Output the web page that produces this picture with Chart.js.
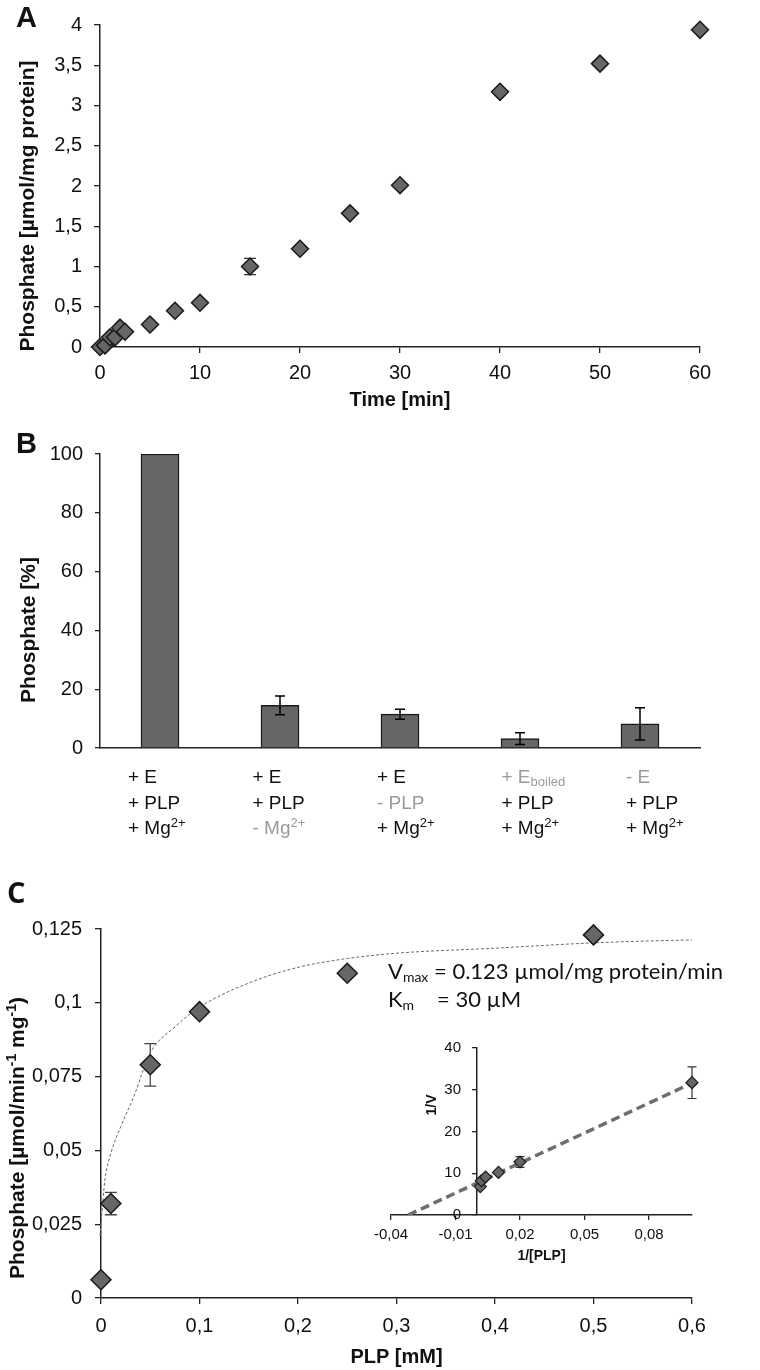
<!DOCTYPE html>
<html>
<head>
<meta charset="utf-8">
<script src="https://cdn.jsdelivr.net/npm/chart.js@4.4.1/dist/chart.umd.min.js"></script>
<style>
  html, body { margin: 0; padding: 0; background: #fff; }
  body { width: 760px; height: 1370px; position: relative; overflow: hidden; }
  canvas { position: absolute; }
  #chartA { left: 0; top: 0; }
  #chartB { left: 0; top: 420px; }
  #chartC { left: 0; top: 870px; }
  #chartInset { left: 360px; top: 1030px; }
</style>
</head>
<body>
<canvas id="chartA" width="760" height="412"></canvas>
<canvas id="chartB" width="760" height="440"></canvas>
<canvas id="chartC" width="760" height="500"></canvas>
<canvas id="chartInset" width="380" height="245"></canvas>
<script>
// ---- Panel A: time course ----
const timeMin = [0, 0.5, 1, 1.5, 2, 2.5, 5, 7.5, 10, 15, 20, 25, 30, 40, 50, 60];
const phosphateA = [0, 0.02, 0.12, 0.12, 0.24, 0.19, 0.28, 0.45, 0.55, 1.0, 1.22, 1.66, 2.01, 3.17, 3.52, 3.94];
const phosphateAErr = [0, 0, 0, 0, 0, 0, 0, 0, 0, 0.1, 0, 0, 0, 0, 0, 0];

// ---- Panel B: controls ----
const conditionE = ["+ E", "+ E", "+ E", "+ E_{boiled}", "- E"];
const conditionPLP = ["+ PLP", "+ PLP", "- PLP", "+ PLP", "+ PLP"];
const conditionMg = ["+ Mg^{2+}", "- Mg^{2+}", "+ Mg^{2+}", "+ Mg^{2+}", "+ Mg^{2+}"];
const phosphatePct = [100, 14.5, 11.5, 3.2, 8.2];
const phosphatePctErr = [0, 3.2, 1.7, 2.0, 5.5];

// ---- Panel C: PLP dependence ----
const plpMM = [0, 0.01, 0.05, 0.1, 0.25, 0.5];
const rateC = [0.0062, 0.032, 0.079, 0.097, 0.110, 0.123];
const rateCErr = [0, 0.0038, 0.0072, 0, 0, 0];
// fitted curve
const fitX = [-0.004, -0.003, -0.001, 0, 0.004, 0.01, 0.02, 0.033, 0.05, 0.075, 0.1, 0.15, 0.2, 0.25, 0.3, 0.4, 0.5, 0.6, 0.67];
const fitY = [0.0015, 0.012, 0.021, 0.025, 0.040, 0.049, 0.058, 0.068, 0.083, 0.0918, 0.0985, 0.1067, 0.112, 0.115, 0.1168, 0.1185, 0.1203, 0.1213, 0.1216];

// ---- Inset: Lineweaver-Burk ----
const invPLP = [0.0015, 0.002, 0.004, 0.01, 0.02, 0.1];
const invRate = [6.8, 8.2, 9.1, 10.2, 12.7, 31.7];
const invRateErr = [0, 0, 0, 0, 1.3, 3.8];
const lbLineX = [-0.032, 0.1];
const lbLineY = [0, 31.6];
const insetXTicks = [-0.04, -0.01, 0.02, 0.05, 0.08];

const ARIAL = "'Liberation Sans', Arial, sans-serif";
const markerFill = "#666666";
const markerEdge = "#1a1a1a";
const axisColor = "#222222";
Chart.defaults.font.family = ARIAL;
Chart.defaults.color = "#111";

function fmtComma(v) {
  return String(Math.round(v * 1000) / 1000).replace(".", ",");
}

// rich text: ^{..} superscript, _{..} subscript
function parseRich(str) {
  const runs = [];
  const re = /([_^])\{([^}]*)\}/g;
  let last = 0, m;
  while ((m = re.exec(str))) {
    if (m.index > last) runs.push({ text: str.slice(last, m.index), kind: "" });
    runs.push({ text: m[2], kind: m[1] });
    last = re.lastIndex;
  }
  if (last < str.length) runs.push({ text: str.slice(last), kind: "" });
  return runs;
}

function drawRich(ctx, str, x, y, o) {
  const runs = parseRich(str);
  const fam = o.family || ARIAL;
  const fontFor = (k) => (o.weight || "normal") + " " + (k ? Math.round(o.size * (o.subScale || 0.65)) : o.size) + "px " + fam;
  let total = 0;
  runs.forEach((r) => {
    ctx.font = fontFor(r.kind);
    r.w = ctx.measureText(r.text).width;
    total += r.w;
  });
  ctx.save();
  ctx.translate(x, y);
  if (o.rotate) ctx.rotate(o.rotate);
  ctx.fillStyle = o.color || "#111";
  ctx.textBaseline = "middle";
  let cx = o.align === "center" ? -total / 2 : o.align === "right" ? -total : 0;
  runs.forEach((r) => {
    ctx.font = fontFor(r.kind);
    const dy = r.kind === "^" ? -o.size * 0.3 : r.kind === "_" ? o.size * 0.25 : 0;
    ctx.fillText(r.text, cx, dy);
    cx += r.w;
  });
  ctx.restore();
}

const notesPlugin = {
  id: "notes",
  afterDraw(chart, args, opts) {
    (opts.items || []).forEach((it) => drawRich(chart.ctx, it.text, it.x, it.y, it));
  },
};

function drawErrors(chart, opts) {
  const ctx = chart.ctx;
  chart.data.datasets.forEach((ds, di) => {
    if (!ds.errors) return;
    const meta = chart.getDatasetMeta(di);
    const yScale = chart.scales[meta.yAxisID];
    ctx.save();
    ctx.strokeStyle = opts.color;
    ctx.lineWidth = opts.width;
    meta.data.forEach((el, i) => {
      const err = ds.errors[i];
      if (!err) return;
      const raw = ds.data[i];
      const v = typeof raw === "object" ? raw.y : raw;
      const top = yScale.getPixelForValue(v + err);
      const bot = yScale.getPixelForValue(v - err);
      const x = el.x;
      ctx.beginPath();
      ctx.moveTo(x, top); ctx.lineTo(x, bot);
      ctx.moveTo(x - opts.cap, top); ctx.lineTo(x + opts.cap, top);
      ctx.moveTo(x - opts.cap, bot); ctx.lineTo(x + opts.cap, bot);
      ctx.stroke();
    });
    ctx.restore();
  });
}

const errorBarPlugin = {
  id: "errorBars",
  beforeDatasetsDraw(chart, args, opts) { if (!opts.front) drawErrors(chart, opts); },
  afterDatasetsDraw(chart, args, opts) { if (opts.front) drawErrors(chart, opts); },
};

// multi-line condition labels under the bars of panel B
const conditionLabelPlugin = {
  id: "conditionLabels",
  afterDraw(chart) {
    const xs = chart.scales.x;
    const rows = [conditionE, conditionPLP, conditionMg];
    conditionE.forEach((_, i) => {
      // labels in the figure drift slightly right of the bar centres
      const left = xs.getPixelForValue(i) - 32 + i * 4.5;
      rows.forEach((row, r) => {
        const txt = row[i];
        const gray = txt.startsWith("-") || txt.includes("boiled");
        drawRich(chart.ctx, txt, left, xs.top + 30 + r * 25.5, {
          size: 19, color: gray ? "#9a9a9a" : "#111", subScale: 0.7,
        });
      });
    });
  },
};

// inset y labels sit left of the axis drawn at x = 0
const insetYLabelPlugin = {
  id: "insetYLabels",
  afterDraw(chart) {
    const xs = chart.scales.x;
    const ys = chart.scales.y;
    const ax = xs.getPixelForValue(0);
    const ctx = chart.ctx;
    ctx.save();
    ctx.font = "15px " + ARIAL;
    ctx.fillStyle = "#111";
    ctx.textAlign = "right";
    ctx.textBaseline = "middle";
    ys.ticks.forEach((t) => ctx.fillText(String(t.value), ax - 16, ys.getPixelForValue(t.value)));
    ctx.restore();
  },
};

const axisTitleFont = { family: ARIAL, size: 20, weight: "bold" };
const tickFont = { family: ARIAL, size: 20 };

// ---------------- Chart A ----------------
new Chart(document.getElementById("chartA"), {
  type: "scatter",
  data: {
    datasets: [{
      data: timeMin.map((t, i) => ({ x: t, y: phosphateA[i] })),
      errors: phosphateAErr,
      pointStyle: "rectRot",
      pointRadius: 8.5,
      pointHoverRadius: 8.5,
      backgroundColor: markerFill,
      borderColor: markerEdge,
      borderWidth: 1.5,
      clip: false,
    }],
  },
  options: {
    responsive: false,
    animation: false,
    devicePixelRatio: 1,
    layout: { padding: { top: 25, right: 60, left: 0, bottom: 0 } },
    plugins: {
      legend: { display: false },
      tooltip: { enabled: false },
      errorBars: { front: false, color: "#333", width: 1.3, cap: 6 },
      notes: {
        items: [
          { text: "A", x: 16, y: 19, size: 29, weight: "bold" },
          { text: "Phosphate [µmol/mg protein]", x: 28, y: 206, size: 21, weight: "bold", align: "center", rotate: -Math.PI / 2 },
        ],
      },
    },
    scales: {
      x: {
        type: "linear", min: 0, max: 60,
        ticks: { stepSize: 10, font: tickFont, color: "#111", padding: 8 },
        grid: { drawOnChartArea: false, tickLength: 6, color: axisColor, lineWidth: 1.3 },
        border: { color: axisColor, width: 1.5 },
        title: { display: true, text: "Time [min]", font: axisTitleFont, color: "#111", padding: { top: 0, bottom: 0 } },
        afterFit: (s) => { s.height = 65; },
      },
      y: {
        min: 0, max: 4,
        ticks: { stepSize: 0.5, font: tickFont, color: "#111", padding: 12, callback: fmtComma },
        grid: { drawOnChartArea: false, tickLength: 6, color: axisColor, lineWidth: 1.3 },
        border: { color: axisColor, width: 1.5 },
        afterFit: (s) => { s.width = 100; },
      },
    },
  },
  plugins: [errorBarPlugin, notesPlugin],
});

// ---------------- Chart B ----------------
new Chart(document.getElementById("chartB"), {
  type: "bar",
  data: {
    labels: conditionE.map((e, i) => [e, conditionPLP[i], conditionMg[i]]),
    datasets: [{
      data: phosphatePct,
      errors: phosphatePctErr,
      backgroundColor: "#666666",
      borderColor: "#1a1a1a",
      borderWidth: 1.5,
      barThickness: 38,
    }],
  },
  options: {
    responsive: false,
    animation: false,
    devicePixelRatio: 1,
    layout: { padding: { top: 34, right: 60, left: 0, bottom: 0 } },
    plugins: {
      legend: { display: false },
      tooltip: { enabled: false },
      errorBars: { front: true, color: "#000", width: 1.5, cap: 5 },
      notes: {
        items: [
          { text: "B", x: 16, y: 25, size: 29, weight: "bold" },
          { text: "Phosphate [%]", x: 29, y: 210, size: 21, weight: "bold", align: "center", rotate: -Math.PI / 2 },
        ],
      },
    },
    scales: {
      x: {
        ticks: { display: false },
        grid: { display: false, drawTicks: false },
        border: { color: axisColor, width: 1.5 },
        afterFit: (s) => { s.height = 112; },
      },
      y: {
        min: 0, max: 100,
        ticks: { stepSize: 20, font: tickFont, color: "#111", padding: 12 },
        grid: { drawOnChartArea: false, tickLength: 5, color: axisColor, lineWidth: 1.3 },
        border: { color: axisColor, width: 1.5 },
        afterFit: (s) => { s.width = 100; },
      },
    },
  },
  plugins: [errorBarPlugin, notesPlugin, conditionLabelPlugin],
});

// ---------------- Chart C ----------------
new Chart(document.getElementById("chartC"), {
  type: "scatter",
  data: {
    datasets: [
      {
        data: plpMM.map((p, i) => ({ x: p, y: rateC[i] })),
        errors: rateCErr,
        pointStyle: "rectRot",
        pointRadius: 10,
        pointHoverRadius: 10,
        backgroundColor: markerFill,
        borderColor: markerEdge,
        borderWidth: 1.5,
        clip: false,
      },
      {
        type: "line",
        data: fitX.map((p, i) => ({ x: p, y: fitY[i] })),
        borderColor: "#6a6a6a",
        borderWidth: 1,
        borderDash: [3, 2],
        pointRadius: 0,
        cubicInterpolationMode: "monotone",
        fill: false,
        clip: false,
      },
    ],
  },
  options: {
    responsive: false,
    animation: false,
    devicePixelRatio: 1,
    layout: { padding: { top: 59, right: 68, left: 0, bottom: 0 } },
    plugins: {
      legend: { display: false },
      tooltip: { enabled: false },
      errorBars: { front: false, color: "#444", width: 1.3, cap: 6 },
      notes: {
        items: [
          { text: "C", x: 7, y: 25, size: 29, weight: "bold", family: "'Open Sans', sans-serif" },
          { text: "Phosphate [µmol/min^{-1} mg^{-1})", x: 18, y: 268, size: 21, weight: "bold", align: "center", rotate: -Math.PI / 2 },
          { text: "V_{max}", x: 388, y: 102, size: 22, family: "Lato, sans-serif" },
          { text: "= 0.123 µmol/mg protein/min", x: 434, y: 102, size: 22, family: "Lato, sans-serif" },
          { text: "K_{m}", x: 388, y: 130, size: 22, family: "Lato, sans-serif" },
          { text: "= 30 µM", x: 437, y: 130, size: 22, family: "Lato, sans-serif" },
        ],
      },
    },
    scales: {
      x: {
        type: "linear", min: 0, max: 0.6,
        ticks: { stepSize: 0.1, font: tickFont, color: "#111", padding: 10, callback: fmtComma },
        grid: { drawOnChartArea: false, tickLength: 6, color: axisColor, lineWidth: 1.3 },
        border: { color: axisColor, width: 1.5 },
        title: { display: true, text: "PLP [mM]", font: axisTitleFont, color: "#111", padding: { top: 0, bottom: 1 } },
        afterFit: (s) => { s.height = 72; },
      },
      y: {
        min: 0, max: 0.125,
        ticks: { stepSize: 0.025, font: tickFont, color: "#111", padding: 13, callback: fmtComma },
        grid: { drawOnChartArea: false, tickLength: 6, color: axisColor, lineWidth: 1.3 },
        border: { color: axisColor, width: 1.5 },
        afterFit: (s) => { s.width = 101; },
      },
    },
  },
  plugins: [errorBarPlugin, notesPlugin],
});

// ---------------- Inset ----------------
const insetTickFont = { family: ARIAL, size: 15 };
new Chart(document.getElementById("chartInset"), {
  type: "scatter",
  data: {
    datasets: [
      {
        data: invPLP.map((p, i) => ({ x: p, y: invRate[i] })),
        errors: invRateErr,
        pointStyle: "rectRot",
        pointRadius: 6,
        pointHoverRadius: 6,
        backgroundColor: markerFill,
        borderColor: markerEdge,
        borderWidth: 1.2,
        clip: false,
      },
      {
        type: "line",
        data: lbLineX.map((p, i) => ({ x: p, y: lbLineY[i] })),
        borderColor: "#6e6e6e",
        borderWidth: 3.5,
        borderDash: [9, 5],
        pointRadius: 0,
        fill: false,
      },
    ],
  },
  options: {
    responsive: false,
    animation: false,
    devicePixelRatio: 1,
    layout: { padding: { top: 18, right: 48, left: 31, bottom: 0 } },
    plugins: {
      legend: { display: false },
      tooltip: { enabled: false },
      errorBars: { front: false, color: "#333", width: 1.2, cap: 4.5 },
      notes: {
        items: [
          { text: "1/V", x: 72, y: 75, size: 14, weight: "bold", align: "center", rotate: -Math.PI / 2 },
        ],
      },
    },
    scales: {
      x: {
        type: "linear", min: -0.04, max: 0.1,
        afterBuildTicks: (s) => { s.ticks = insetXTicks.map((v) => ({ value: v })); },
        ticks: { font: insetTickFont, color: "#111", padding: 6, callback: fmtComma },
        grid: { drawOnChartArea: false, tickLength: 5, color: axisColor, lineWidth: 1.3 },
        border: { color: axisColor, width: 1.5 },
        title: { display: true, text: "1/[PLP]", font: { family: ARIAL, size: 14, weight: "bold" }, color: "#111", padding: { top: 0, bottom: 10 } },
        afterFit: (s) => { s.height = 60; },
      },
      y: {
        position: { x: 0 },
        min: 0, max: 40,
        ticks: { stepSize: 10, display: false },
        grid: { drawOnChartArea: false, tickLength: 4, color: axisColor, lineWidth: 1.3 },
        border: { color: axisColor, width: 1.5 },
      },
    },
  },
  plugins: [errorBarPlugin, notesPlugin, insetYLabelPlugin],
});
</script>
</body>
</html>
